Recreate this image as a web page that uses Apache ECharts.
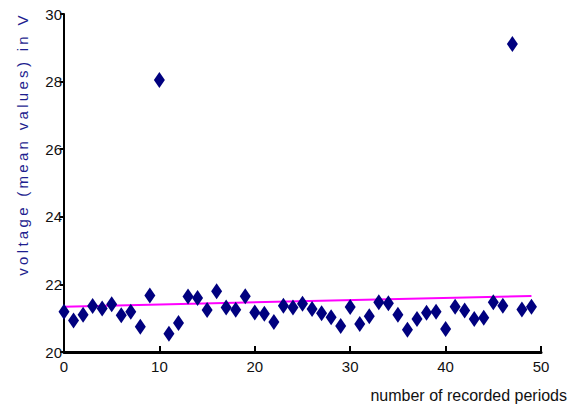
<!DOCTYPE html>
<html><head><meta charset="utf-8">
<script src="https://cdn.jsdelivr.net/npm/echarts@6/dist/echarts.min.js"></script>
<style>html,body{margin:0;padding:0;background:#fff}#c{width:574px;height:412px}</style>
</head><body><div id="c"></div>
<script>
var periods = [0,1,2,3,4,5,6,7,8,9,10,11,12,13,14,15,16,17,18,19,20,21,22,23,24,25,26,27,28,29,30,31,32,33,34,35,36,37,38,39,40,41,42,43,44,45,46,47,48,49];
var voltage = [21.19,20.93,21.10,21.36,21.29,21.41,21.09,21.19,20.75,21.67,28.05,20.54,20.86,21.64,21.60,21.24,21.80,21.32,21.25,21.65,
               21.17,21.13,20.89,21.37,21.32,21.43,21.27,21.15,21.03,20.77,21.33,20.83,21.06,21.47,21.44,21.10,20.66,20.98,21.16,21.19,
               20.68,21.34,21.23,20.98,21.01,21.47,21.37,29.11,21.26,21.34];
var trendX = [0, 49];
var trendY = [21.34, 21.66];
var xTicks = [0, 10, 20, 30, 40, 50];
var yTicks = [20, 22, 24, 26, 28, 30];
var yTitle = 'voltage (mean values) in V';
var xTitle = 'number of recorded periods';

var labelFont = '"Liberation Sans",Arial,sans-serif';
var chart = echarts.init(document.getElementById('c'), null, {renderer: 'svg'});
chart.setOption({
  animation: false,
  grid: {left: 64, right: 33, top: 14, bottom: 60, containLabel: false},
  xAxis: {
    type: 'value', min: xTicks[0], max: xTicks[xTicks.length-1], interval: 10,
    axisLine: {show: true, onZero: false, lineStyle: {color: '#000', width: 3}},
    axisTick: {show: true, inside: true, length: 6, lineStyle: {color: '#000', width: 2}},
    splitLine: {show: false},
    axisLabel: {fontFamily: labelFont, fontSize: 15, color: '#111', margin: 7}
  },
  yAxis: {
    type: 'value', min: yTicks[0], max: yTicks[yTicks.length-1], interval: 2,
    axisLine: {show: true, onZero: false, lineStyle: {color: '#000', width: 2}},
    axisTick: {show: true, inside: false, length: 4, lineStyle: {color: '#000', width: 2}},
    splitLine: {show: false},
    axisLabel: {fontFamily: labelFont, fontSize: 15, color: '#111', margin: 2}
  },
  series: [
    {
      type: 'line', data: trendX.map(function(x,i){return [x, trendY[i]];}),
      symbol: 'none', lineStyle: {color: '#ff00ff', width: 2}, z: 2
    },
    {
      type: 'scatter', data: periods.map(function(x,i){return [x, voltage[i]];}),
      symbol: 'diamond', symbolSize: [11, 16], itemStyle: {color: '#00007f', opacity: 1}, z: 3
    }
  ],
  graphic: [
    {type: 'text', x: 22, y: 144, rotation: Math.PI/2,
     style: {text: yTitle, fill: '#1f1f8f', font: '15px "Liberation Sans",Arial,sans-serif', align: 'center', verticalAlign: 'middle'}},
    {type: 'text', right: 7, top: 387,
     style: {text: xTitle, fill: '#111', font: '16px ' + labelFont}}
  ]
});
var texts = document.querySelectorAll('#c svg text');
for (var i = 0; i < texts.length; i++) {
  if (texts[i].textContent === yTitle) {
    texts[i].style.letterSpacing = '3.3px';
  }
}
</script></body></html>
